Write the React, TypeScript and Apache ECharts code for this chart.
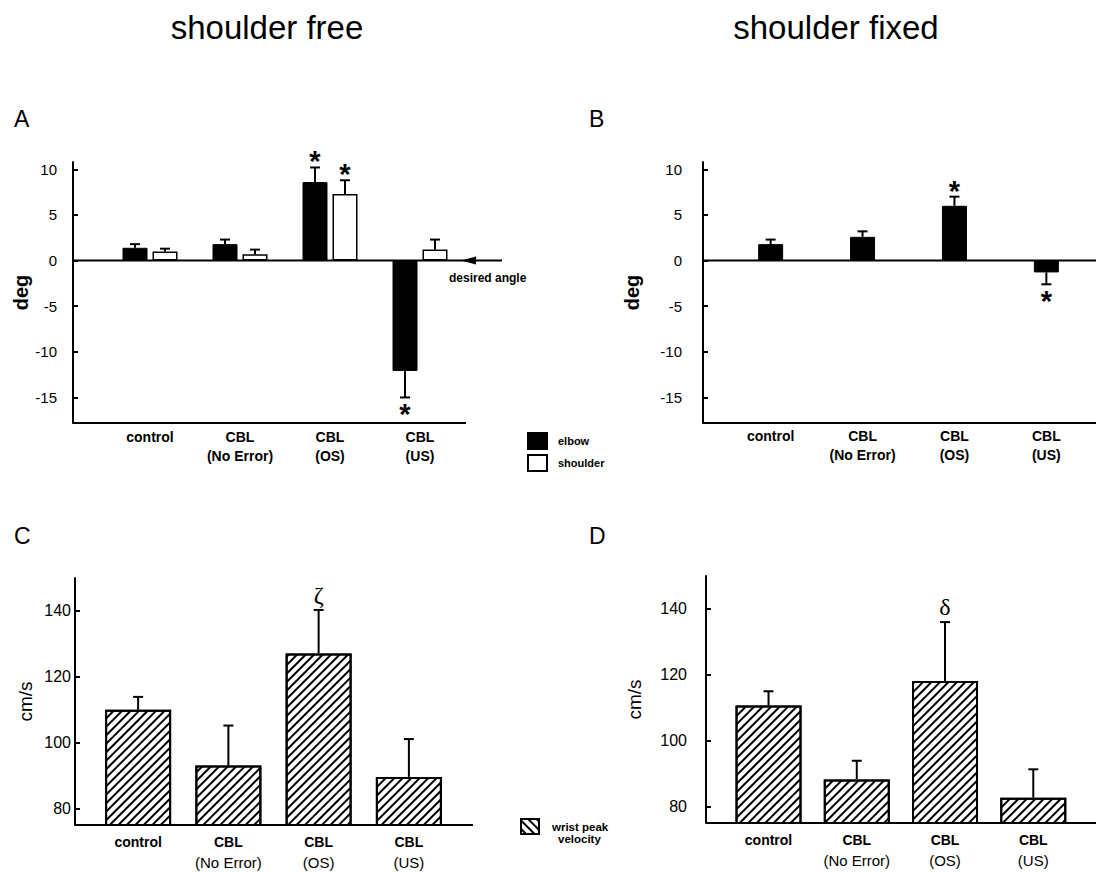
import React, { useEffect, useRef } from "react";
import * as echarts from "echarts";

const FONT = "'Liberation Sans', Arial, Helvetica, sans-serif";
const SERIF = "'Liberation Serif', 'DejaVu Serif', serif";

// ---------- data ----------
const categories = ["control", "CBL\n(No Error)", "CBL\n(OS)", "CBL\n(US)"];

const degTicks = [-15, -10, -5, 0, 5, 10];
const velTicks = [80, 100, 120, 140];
const degRange = [-17.8, 10.8];
const velRange = [75, 150];

// A: shoulder free, joint angle error (deg)
const aElbow = [1.4, 1.8, 8.6, -12.1];
const aElbowErr = [0.4, 0.5, 1.6, 2.9];
const aElbowMark = ["", "", "*", "*"];
const aShoulder = [1.0, 0.7, 7.3, 1.2];
const aShoulderErr = [0.3, 0.5, 1.5, 1.1];
const aShoulderMark = ["", "", "*", ""];

// B: shoulder fixed, elbow angle error (deg)
const bElbow = [1.8, 2.6, 6.0, -1.3];
const bElbowErr = [0.5, 0.6, 1.0, 1.3];
const bElbowMark = ["", "", "*", "*"];

// C: shoulder free, wrist peak velocity (cm/s)
const cVel = [110.0, 93.1, 127.1, 89.6];
const cVelErr = [3.9, 12.1, 13.2, 11.5];
const cMark = ["", "", "ζ", ""];

// D: shoulder fixed, wrist peak velocity (cm/s)
const dVel = [110.7, 88.2, 118.1, 82.7];
const dVelErr = [4.3, 5.7, 17.9, 8.6];
const dMark = ["", "", "δ", ""];

// ---------- layout ----------
const L = [
  { axisX: 73, left: 105, width: 360, top: 162, height: 261, lineEnd: 466, labelMargin: 4, tickMargin: 16, nameGap: 42 },
  { axisX: 703, left: 724.7, width: 367.6, top: 162, height: 261, lineEnd: 1096, labelMargin: 3, tickMargin: 21, nameGap: 61 },
  { axisX: 75, left: 93, width: 361, top: 578, height: 247, lineEnd: 473, labelMargin: 7, tickMargin: 4, nameGap: 40 },
  { axisX: 706, left: 724.4, width: 353, top: 576, height: 247, lineEnd: 1096, labelMargin: 7, tickMargin: 19, nameGap: 62 },
];

const hatch = (rot: number) => ({
  symbol: "rect",
  symbolSize: 1,
  dashArrayX: [1, 0],
  dashArrayY: [1.1, 3.4],
  rotation: rot,
  color: "#000",
  backgroundColor: "#fff",
});

const fmtBold = (v: string) => v.split("\n").map((s) => `{b|${s}}`).join("\n");
const fmtMixed = (v: string) => {
  const [a, b] = v.split("\n");
  return b ? `{b|${a}}\n{n|${b}}` : `{b|${a}}`;
};

function yAxisCfg(i: number, range: number[], ticks: number[], name: string, bold: boolean, fs: number) {
  const g = L[i];
  return {
    type: "value",
    gridIndex: i,
    min: range[0],
    max: range[1],
    offset: g.left - g.axisX,
    name,
    nameLocation: "middle",
    nameGap: g.nameGap,
    nameRotate: 90,
    nameTextStyle: { fontFamily: FONT, fontSize: bold ? 20 : 19, fontWeight: bold ? "bold" : "normal", color: "#000" },
    axisLine: { show: true, lineStyle: { color: "#000", width: 2 } },
    axisTick: { show: true, inside: true, length: 5, customValues: ticks, lineStyle: { color: "#000", width: 2 } },
    axisLabel: { show: true, customValues: ticks, fontFamily: FONT, fontSize: fs, color: "#000", margin: g.tickMargin },
    splitLine: { show: false },
  };
}

function xAxisCfg(i: number, mixed: boolean) {
  return {
    type: "category",
    gridIndex: i,
    data: categories,
    axisLine: { show: false },
    axisTick: { show: false },
    axisLabel: {
      interval: 0,
      margin: L[i].labelMargin,
      formatter: mixed ? fmtMixed : fmtBold,
      rich: {
        b: { fontFamily: FONT, fontWeight: "bold", fontSize: 14, lineHeight: mixed ? 20 : 19, color: "#000" },
        n: { fontFamily: FONT, fontWeight: "normal", fontSize: 15, lineHeight: 20, color: "#000" },
      },
    },
  };
}

function errSeries(i: number, vals: number[], errs: number[], marks: string[], dx: number, greek: boolean) {
  return {
    type: "custom",
    xAxisIndex: i,
    yAxisIndex: i,
    z: 5,
    silent: true,
    encode: { x: 0, y: 1 },
    data: vals.map((v, k) => [k, v, v >= 0 ? v + errs[k] : v - errs[k]]),
    renderItem: (params: any, api: any) => {
      const k = api.value(0);
      const v = api.value(1);
      const e = api.value(2);
      const p0 = api.coord([k, v]);
      const p1 = api.coord([k, e]);
      const x = p0[0] + dx;
      const up = e >= v;
      const children: any[] = [
        { type: "line", shape: { x1: x, y1: p0[1], x2: x, y2: p1[1] }, style: { stroke: "#000", lineWidth: 2 } },
        { type: "line", shape: { x1: x - 5, y1: p1[1], x2: x + 5, y2: p1[1] }, style: { stroke: "#000", lineWidth: 2 } },
      ];
      const m = marks[params.dataIndex];
      if (m) {
        if (greek) {
          children.push({
            type: "text",
            x,
            y: p1[1] - 3,
            style: { text: m, fill: "#000", fontFamily: SERIF, fontSize: 24, align: "center", verticalAlign: "bottom" },
          });
        } else {
          children.push({
            type: "text",
            x,
            y: up ? p1[1] - 6 : p1[1] + 17,
            style: { text: m, fill: "#000", fontFamily: FONT, fontWeight: "bold", fontSize: 29, align: "center", verticalAlign: "middle" },
          });
        }
      }
      return { type: "group", children };
    },
  };
}

export default function App() {
  const ref = useRef<HTMLDivElement>(null);

  useEffect(() => {
    if (!ref.current) return;
    const chart = echarts.init(ref.current, undefined, { renderer: "svg" });

    const option: any = {
      animation: false,
      textStyle: { fontFamily: FONT },
      grid: L.map((g) => ({ left: g.left, top: g.top, width: g.width, height: g.height })),
      xAxis: [xAxisCfg(0, false), xAxisCfg(1, false), xAxisCfg(2, true), xAxisCfg(3, true)],
      yAxis: [
        yAxisCfg(0, degRange, degTicks, "deg", true, 15),
        yAxisCfg(1, degRange, degTicks, "deg", true, 15),
        yAxisCfg(2, velRange, velTicks, "cm/s", false, 16),
        yAxisCfg(3, velRange, velTicks, "cm/s", false, 16),
      ],
      legend: [
        {
          data: ["elbow", "shoulder"],
          orient: "vertical",
          left: 527,
          top: 432,
          padding: 0,
          itemWidth: 19,
          itemHeight: 16,
          itemGap: 4,
          icon: "rect",
          selectedMode: false,
          textStyle: { fontFamily: FONT, fontWeight: "bold", fontSize: 11, color: "#000", padding: [0, 0, 0, 6] },
        },
        {
          data: ["wrist peak velocity"],
          left: 520,
          top: 818,
          padding: 0,
          itemWidth: 18,
          itemHeight: 15,
          icon: "rect",
          selectedMode: false,
          formatter: () => "wrist peak",
          itemStyle: { decal: hatch(Math.PI / 4) },
          textStyle: { fontFamily: FONT, fontWeight: "bold", fontSize: 11.5, color: "#000", padding: [0, 0, 0, 8] },
        },
      ],
      series: [
        {
          type: "bar",
          name: "elbow",
          xAxisIndex: 0,
          yAxisIndex: 0,
          data: aElbow,
          barWidth: 25,
          barGap: "20%",
          itemStyle: { color: "#000", borderColor: "#000", borderWidth: 1 },
        },
        {
          type: "bar",
          name: "shoulder",
          xAxisIndex: 0,
          yAxisIndex: 0,
          data: aShoulder,
          barWidth: 25,
          barGap: "20%",
          itemStyle: { color: "#fff", borderColor: "#000", borderWidth: 1.5 },
        },
        errSeries(0, aElbow, aElbowErr, aElbowMark, -15, false),
        errSeries(0, aShoulder, aShoulderErr, aShoulderMark, 15, false),
        {
          type: "bar",
          name: "elbow (shoulder fixed)",
          xAxisIndex: 1,
          yAxisIndex: 1,
          data: bElbow,
          barWidth: 25,
          itemStyle: { color: "#000", borderColor: "#000", borderWidth: 1 },
        },
        errSeries(1, bElbow, bElbowErr, bElbowMark, 0, false),
        {
          type: "bar",
          name: "wrist peak velocity",
          xAxisIndex: 2,
          yAxisIndex: 2,
          data: cVel,
          barWidth: 66,
          itemStyle: { color: "#fff", borderColor: "#000", borderWidth: 2, decal: hatch(-Math.PI / 4) },
        },
        errSeries(2, cVel, cVelErr, cMark, 0, true),
        {
          type: "bar",
          name: "wrist peak velocity (shoulder fixed)",
          xAxisIndex: 3,
          yAxisIndex: 3,
          data: dVel,
          barWidth: 66,
          itemStyle: { color: "#fff", borderColor: "#000", borderWidth: 2, decal: hatch(-Math.PI / 4) },
        },
        errSeries(3, dVel, dVelErr, dMark, 0, true),
      ],
    };

    chart.setOption(option);

    const zeroA = chart.convertToPixel({ yAxisIndex: 0 }, 0) as number;
    const zeroB = chart.convertToPixel({ yAxisIndex: 1 }, 0) as number;
    const mins = [degRange[0], degRange[0], velRange[0], velRange[0]];
    const bottoms = mins.map((m, i) => chart.convertToPixel({ yAxisIndex: i }, m) as number);

    const ln = (x1: number, y1: number, x2: number, y2: number) => ({
      type: "line",
      silent: true,
      z: 3,
      shape: { x1, y1, x2, y2 },
      style: { stroke: "#000", lineWidth: 2 },
    });
    const txt = (text: string, x: number, y: number, fontSize: number, extra: any = {}) => ({
      type: "text",
      silent: true,
      x,
      y,
      style: { text, fill: "#000", fontFamily: FONT, fontSize, ...extra },
    });

    chart.setOption({
      graphic: [
        txt("shoulder free", 267, 27, 33, { align: "center", verticalAlign: "middle" }),
        txt("shoulder fixed", 836, 27, 33, { align: "center", verticalAlign: "middle" }),
        txt("A", 14, 119, 23, { verticalAlign: "middle" }),
        txt("B", 589, 119, 23, { verticalAlign: "middle" }),
        txt("C", 14, 536, 23, { verticalAlign: "middle" }),
        txt("D", 589, 536, 23, { verticalAlign: "middle" }),
        ...L.map((g, i) => ln(g.axisX, bottoms[i], g.lineEnd, bottoms[i])),
        ln(L[0].axisX, zeroA, 502, zeroA),
        ln(L[1].axisX, zeroB, 1096, zeroB),
        {
          type: "polygon",
          silent: true,
          z: 3,
          shape: { points: [[461, zeroA], [476, zeroA - 4], [476, zeroA + 4]] },
          style: { fill: "#000" },
        },
        txt("desired angle", 449, zeroA + 17, 12, { fontWeight: "bold", verticalAlign: "middle" }),
        txt("velocity", 558, 839, 11.5, { fontWeight: "bold", verticalAlign: "middle" }),
      ],
    });

    return () => chart.dispose();
  }, []);

  return <div ref={ref} style={{ position: "absolute", left: 0, top: 0, width: 1096, height: 872 }} />;
}
